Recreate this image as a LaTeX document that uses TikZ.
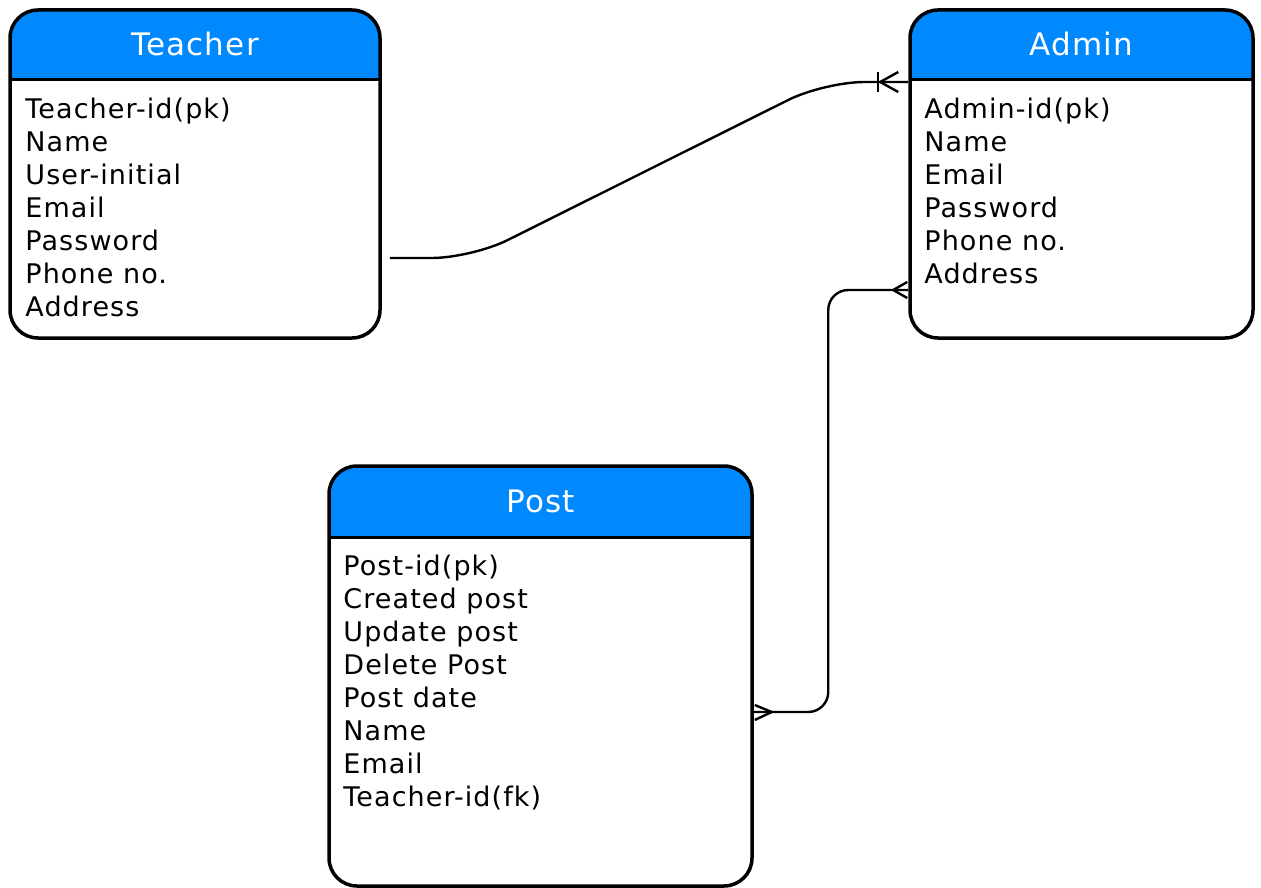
\documentclass[tikz,border=0pt]{standalone}
\usepackage{fontspec}
\setmainfont{DejaVu Sans}[LetterSpace=4]
\usetikzlibrary{calc}
\definecolor{hdr}{RGB}{0,137,255}
\begin{document}
\begin{tikzpicture}[x=1pt,y=-1pt,
  tbl/.style={draw=black, line width=3.5pt, rounded corners=28pt, inner sep=0pt,
    path picture={
      \fill[hdr, sharp corners] (path picture bounding box.north west) rectangle ([yshift=-#1]path picture bounding box.north east);
      \draw[line width=3pt, sharp corners] ([yshift=-#1]path picture bounding box.north west) -- ([yshift=-#1]path picture bounding box.north east);
    }},
  ttl/.style={text=white, font=\fontsize{31}{34}\selectfont, inner sep=0pt, anchor=base},
  attr/.style={text=black, font=\fontsize{27}{33}\selectfont, inner sep=0pt, anchor=base west},
  conn/.style={draw=black, line width=2.4pt},
  crow/.style={draw=black, line width=2.4pt}
]
\useasboundingbox (0,0) rectangle (1261,888);

% tables
\node[tbl=70pt, minimum width=370pt, minimum height=328pt] (teacher) at (195,174) {};
\node[tbl=70pt, minimum width=343pt, minimum height=328pt] (admin) at (1081.5,174) {};
\node[tbl=71pt, minimum width=423pt, minimum height=420pt] (post) at (540.5,676) {};

% titles
\node[ttl] (tteacher) at ([yshift=-47pt]teacher.north) {Teacher};
\node[ttl] (tadmin) at ([yshift=-47pt]admin.north) {Admin};
\node[ttl] (tpost) at ([yshift=-48pt]post.north) {Post};

% attributes
\foreach \t [count=\i] in {Teacher-id(pk),Name,User-initial,Email,Password,Phone no.,Address}
  \node[attr] (ta\i) at ([shift={(17,{110+33*(\i-1)})}]teacher.north west) {\t};
\foreach \t [count=\i] in {Admin-id(pk),Name,Email,Password,Phone no.,Address}
  \node[attr] (aa\i) at ([shift={(16,{110+33*(\i-1)})}]admin.north west) {\t};
\foreach \t [count=\i] in {Post-id(pk),Created post,Update post,Delete Post,Post date,Name,Email,Teacher-id(fk)}
  \node[attr] (pa\i) at ([shift={(16,{111+33*(\i-1)})}]post.north west) {\t};

% connector points
\coordinate (c1s) at ([shift={(8,84)}]teacher.east);
\coordinate (c1e) at ([shift={(0,-92)}]admin.west);
\coordinate (c2s) at ([shift={(0,116)}]admin.west);
\coordinate (c2e) at ([shift={(0,36)}]post.east);
\coordinate (c2m) at ($(c2s)+(-80,0)$);

% connector 1: teacher -> admin (one or many)
\draw[conn, rounded corners=40pt] (c1s) -- ++(82,0) -- ($(c1e)+(-84,0)$) -- (c1e);
\draw[crow] ($(c1e)+(-30,-10)$) -- ($(c1e)+(-30,10)$);
\draw[crow] ($(c1e)+(-10,-10)$) -- ($(c1e)+(-28,0)$) -- ($(c1e)+(-10,10)$);

% connector 2: admin -> post (many to many)
\draw[conn, rounded corners=20pt] (c2s) -- (c2m) -- (c2m |- c2e) -- (c2e);
\draw[crow] ($(c2s)+(-1,-8)$) -- ($(c2s)+(-15,0)$) -- ($(c2s)+(-1,8)$);
\draw[crow] ($(c2e)+(1,-7)$) -- ($(c2e)+(18,0)$) -- ($(c2e)+(1,8)$);
\end{tikzpicture}
\end{document}
